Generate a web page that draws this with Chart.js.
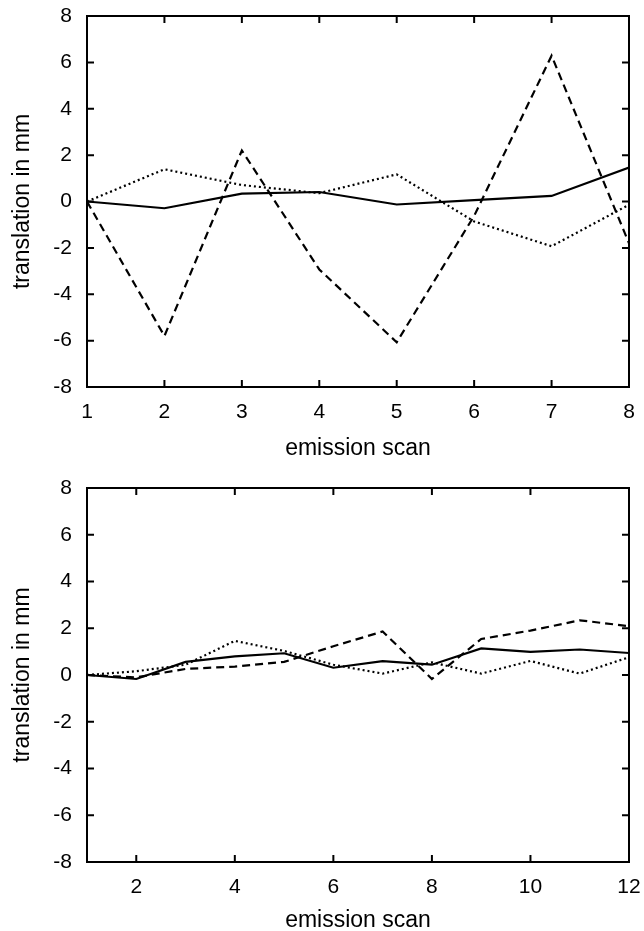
<!DOCTYPE html>
<html lang="en">
<head>
  <meta charset="UTF-8" />
  <title>Translation per emission scan</title>
  <script src="https://cdn.jsdelivr.net/npm/chart.js"></script>
  <style>
    body { margin: 0; background: #fff; width: 644px; height: 931px; position: relative; overflow: hidden; }
    .box { position: absolute; left: 0; width: 644px; }
    #box1 { top: 0; height: 470px; }
    #box2 { top: 470px; height: 461px; }
  </style>
</head>
<body>
  <div class="box" id="box1"><canvas id="topChart"></canvas></div>
  <div class="box" id="box2"><canvas id="bottomChart"></canvas></div>

  <script>
    // top panel: scans 1..8
    const scansTop = [1, 2, 3, 4, 5, 6, 7, 8];
    const solidTop = [0, -0.29, 0.34, 0.41, -0.13, 0.06, 0.24, 1.46];
    const dashedTop = [0, -5.8, 2.2, -2.93, -6.07, -0.62, 6.29, -1.8];
    const dottedTop = [0, 1.39, 0.71, 0.36, 1.17, -0.86, -1.93, -0.14];
    const xTicksTop = [1, 2, 3, 4, 5, 6, 7, 8];

    // bottom panel: scans 1..12
    const scansBottom = [1, 2, 3, 4, 5, 6, 7, 8, 9, 10, 11, 12];
    const solidBottom = [0, -0.17, 0.56, 0.8, 0.93, 0.31, 0.59, 0.44, 1.14, 0.99, 1.09, 0.94];
    const dashedBottom = [0, -0.1, 0.26, 0.36, 0.56, 1.23, 1.86, -0.17, 1.54, 1.9, 2.34, 2.09];
    const dottedBottom = [0, 0.16, 0.44, 1.46, 1.03, 0.44, 0.06, 0.54, 0.06, 0.6, 0.06, 0.76];
    const xTicksBottom = [2, 4, 6, 8, 10, 12];

    const yTicks = [-8, -6, -4, -2, 0, 2, 4, 6, 8];

    const TICK_FONT = { family: "'Liberation Sans', Arial, Helvetica, sans-serif", size: 21 };
    const TITLE_FONT = { family: "'Liberation Sans', Arial, Helvetica, sans-serif", size: 23 };
    Chart.defaults.color = "#000";

    // frame plus inward tick marks on all four sides, like gnuplot
    const framePlugin = {
      id: "frame",
      afterDatasetsDraw(chart) {
        const { ctx, chartArea: a, scales } = chart;
        ctx.save();
        ctx.strokeStyle = "#000";
        ctx.lineWidth = 2;
        ctx.beginPath();
        scales.x.ticks.forEach(t => {
          const px = scales.x.getPixelForValue(t.value);
          ctx.moveTo(px, a.bottom); ctx.lineTo(px, a.bottom - 7);
          ctx.moveTo(px, a.top); ctx.lineTo(px, a.top + 7);
        });
        scales.y.ticks.forEach(t => {
          const py = scales.y.getPixelForValue(t.value);
          ctx.moveTo(a.left, py); ctx.lineTo(a.left + 7, py);
          ctx.moveTo(a.right, py); ctx.lineTo(a.right - 7, py);
        });
        ctx.stroke();
        ctx.strokeRect(a.left, a.top, a.right - a.left, a.bottom - a.top);
        ctx.restore();
      }
    };

    function pts(xs, ys) {
      return xs.map((x, i) => ({ x: x, y: ys[i] }));
    }

    function makeChart(id, xs, solid, dashed, dotted, xTicks, padTop, axisH, titleBottom) {
      new Chart(document.getElementById(id), {
        type: "line",
        data: {
          datasets: [
            { data: pts(xs, solid), borderColor: "#000", borderWidth: 2.2 },
            { data: pts(xs, dashed), borderColor: "#000", borderWidth: 2.2, borderDash: [8, 5] },
            { data: pts(xs, dotted), borderColor: "#000", borderWidth: 2.2, borderDash: [2, 3] }
          ]
        },
        options: {
          responsive: true,
          maintainAspectRatio: false,
          animation: false,
          elements: { point: { radius: 0 }, line: { tension: 0 } },
          layout: { padding: { top: padTop, right: 15, left: 0, bottom: 0 } },
          plugins: { legend: { display: false }, tooltip: { enabled: false } },
          scales: {
            x: {
              type: "linear",
              min: xs[0],
              max: xs[xs.length - 1],
              grid: { display: false, drawTicks: false },
              border: { display: false },
              afterBuildTicks: s => { s.ticks = xTicks.map(v => ({ value: v })); },
              afterFit: s => { s.height = axisH; s.paddingLeft = 0; s.paddingRight = 0; },
              ticks: { padding: 13, maxRotation: 0, autoSkip: false, font: TICK_FONT },
              title: { display: true, text: "emission scan", font: TITLE_FONT, padding: { top: 0, bottom: titleBottom } }
            },
            y: {
              type: "linear",
              min: -8,
              max: 8,
              grid: { display: false, drawTicks: false },
              border: { display: false },
              afterBuildTicks: s => { s.ticks = yTicks.map(v => ({ value: v })); },
              afterFit: s => { s.width = 87; s.paddingTop = 0; s.paddingBottom = 0; },
              ticks: { padding: 15, autoSkip: false, font: TICK_FONT },
              title: { display: true, text: "translation in mm", font: TITLE_FONT, padding: { top: 9, bottom: 0 } }
            }
          }
        },
        plugins: [framePlugin]
      });
    }

    makeChart("topChart", scansTop, solidTop, dashedTop, dottedTop, xTicksTop, 16, 470 - 387, 8);
    makeChart("bottomChart", scansBottom, solidBottom, dashedBottom, dottedBottom, xTicksBottom, 18, 461 - 392, -3);
  </script>
</body>
</html>
